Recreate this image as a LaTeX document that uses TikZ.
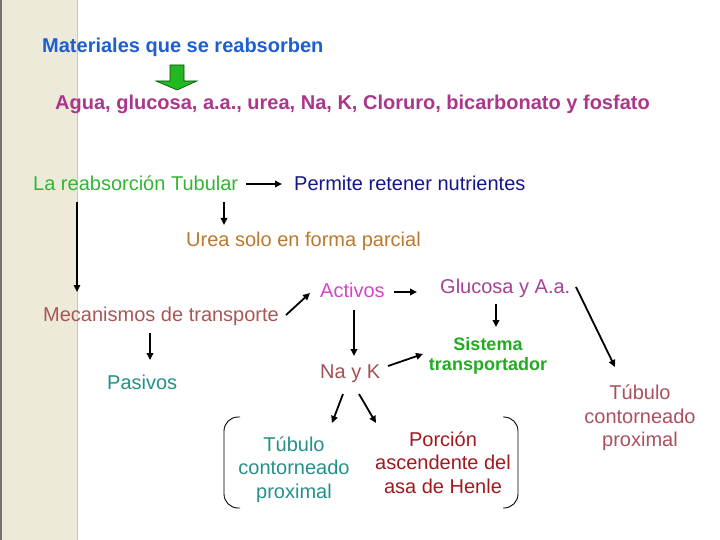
\documentclass[tikz,border=0pt]{standalone}
\usepackage{fontspec}
\setmainfont{Liberation Sans}
\usetikzlibrary{arrows.meta}
\definecolor{cmat}{HTML}{1C5FD0}
\definecolor{cagua}{HTML}{AA378C}
\definecolor{cla}{HTML}{33B533}
\definecolor{cperm}{HTML}{14148C}
\definecolor{curea}{HTML}{B9782D}
\definecolor{cmec}{HTML}{AA5555}
\definecolor{cact}{HTML}{D246C8}
\definecolor{cglu}{HTML}{A54196}
\definecolor{csis}{HTML}{23AA23}
\definecolor{cnayk}{HTML}{A05050}
\definecolor{cteal}{HTML}{239187}
\definecolor{cpor}{HTML}{A0191E}
\definecolor{ctub}{HTML}{AA505F}
\definecolor{cstrip}{HTML}{EDEAD9}
\definecolor{cgarrow}{HTML}{22B822}
\begin{document}
\begin{tikzpicture}[x=1pt,y=-1pt,
  txt/.style={inner sep=0pt, font=\fontsize{20pt}{23.3pt}\selectfont},
  btxt/.style={inner sep=0pt, font=\fontsize{20pt}{24pt}\selectfont\bfseries},
  arr/.style={line width=1.8pt, -{Triangle[length=7pt,width=6.5pt]}},
  bracket/.style={line width=0.9pt, rounded corners=14pt}]
\useasboundingbox (0,0) rectangle (720,540);
% side strip
\fill[cstrip] (0,0) rectangle (78,540);
\draw[line width=1.5pt, color=black!55] (0.75,0) -- (0.75,540);
\draw[line width=1.2pt, color=cstrip!85!black] (77.4,0) -- (77.4,540);
% texts
\node[btxt, anchor=base west, text=cmat] (mat) at (42,53) {Materiales que se reabsorben};
\node[btxt, anchor=base west, text=cagua] (agua) at (55,110) {Agua, glucosa, a.a., urea, Na, K, Cloruro, bicarbonato y fosfato};
\node[txt, anchor=base west, text=cla] (la) at (33,191) {La reabsorción Tubular};
\node[txt, anchor=base west, text=cperm] (perm) at (294,191) {Permite retener nutrientes};
\node[txt, anchor=base west, text=curea] (urea) at (186,247) {Urea solo en forma parcial};
\node[txt, anchor=base west, text=cmec] (mec) at (43,321) {Mecanismos de transporte};
\node[txt, anchor=base west, text=cact] (act) at (320,297) {Activos};
\node[txt, anchor=base west, text=cglu] (glu) at (440,293) {Glucosa y A.a.};
\node[inner sep=0pt, font=\fontsize{18pt}{20pt}\selectfont\bfseries, align=center, anchor=base, text=csis] (sis) at (488,370) {Sistema\\transportador};
\node[txt, anchor=base west, text=cnayk] (nayk) at (320,378) {Na y K};
\node[txt, anchor=base west, text=cteal] (pas) at (107,389) {Pasivos};
\node[txt, align=center, anchor=base, text=ctub] (tub2) at (640,446.5) {Túbulo\\contorneado\\proximal};
\node[txt, align=center, anchor=base, text=cteal] (tub1) at (294,498) {Túbulo\\contorneado\\proximal};
\node[txt, align=center, anchor=base, text=cpor] (por) at (443,493) {Porción\\ascendente del\\asa de Henle};
% green block arrow
\filldraw[fill=cgarrow, draw=black!70!green, line width=0.6pt]
  (170,65) -- (184,65) -- (184,81) -- (197,81) -- (177,90) -- (156,81) -- (170,81) -- cycle;
% arrows
\draw[arr] ([shift={(213,-7)}]la.base west) -- ([shift={(-12,-7)}]perm.base west);
\draw[arr] ([shift={(191,11)}]la.base west) -- ([shift={(38,-22)}]urea.base west);
\draw[arr, line width=1.3pt] ([shift={(44,11)}]la.base west) -- ([shift={(34,-29)}]mec.base west);
\draw[arr] ([shift={(243,-6)}]mec.base west) -- ([shift={(-10,-4)}]act.base west);
\draw[arr] ([shift={(74,-5)}]act.base west) -- ([shift={(-23,-1)}]glu.base west);
\draw[arr] ([shift={(34,13)}]act.base west) -- ([shift={(34,-22)}]nayk.base west);
\draw[arr] ([shift={(56,11)}]glu.base west) -- ([shift={(8,-43)}]sis.base);
\draw[arr] ([shift={(68,-12)}]nayk.base west) -- ([shift={(-65,-16)}]sis.base);
\draw[arr] ([shift={(136,-6)}]glu.base west) -- ([shift={(-25,-79.5)}]tub2.base);
\draw[arr] ([shift={(107,12)}]mec.base west) -- ([shift={(43,-29)}]pas.base west);
\draw[arr] ([shift={(23,16)}]nayk.base west) -- ([shift={(38,-75)}]tub1.base);
\draw[arr] ([shift={(39,16)}]nayk.base west) -- ([shift={(-67,-70)}]por.base);
% brackets
\draw[bracket] (240,417) -- (224,417) -- (224,508) -- (240,508);
\draw[bracket] (503,417) -- (518,417) -- (518,508) -- (503,508);
\end{tikzpicture}
\end{document}
